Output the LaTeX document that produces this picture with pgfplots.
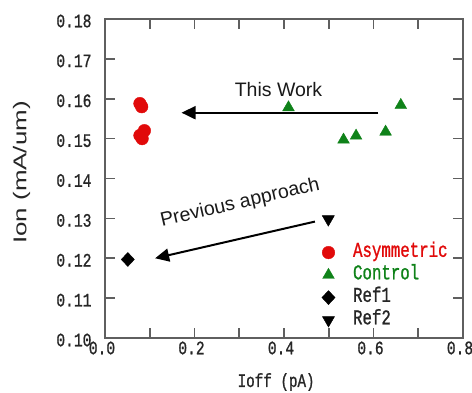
\documentclass[border=0pt]{standalone}
\usepackage{pgfplots}
\pgfplotsset{compat=1.18}
\usepackage{fontspec}
\setmainfont{Liberation Sans}
\newfontfamily\gothic[FakeStretch=0.75, FakeBold=1]{Liberation Mono}
\newfontfamily\tickgothic[FakeStretch=0.77, FakeBold=1]{Liberation Mono}
\newfontfamily\widesans[FakeStretch=1.4]{Liberation Sans}
\usetikzlibrary{arrows.meta}
\definecolor{myred}{RGB}{225,10,10}
\definecolor{mygreen}{RGB}{15,130,25}
\definecolor{axgray}{RGB}{95,95,95}
\begin{document}
\begin{tikzpicture}
\begin{axis}[
  scale only axis, width=358bp, height=319bp,
  xmin=0, xmax=0.8, ymin=0.10, ymax=0.18,
  xtick={0,0.1,0.2,0.3,0.4,0.5,0.6,0.7,0.8},
  xticklabels={0.0,,0.2,,0.4,,0.6,,0.8},
  ytick={0.10,0.11,0.12,0.13,0.14,0.15,0.16,0.17,0.18},
  yticklabels={0.10,0.11,0.12,0.13,0.14,0.15,0.16,0.17,0.18},
  tick align=inside, major tick length=10bp,
  axis line style={axgray, line width=1.6bp},
  tick style={axgray, line width=1.6bp},
  ticklabel style={font=\tickgothic\fontsize{19bp}{19bp}\selectfont, black!85},
  xticklabel style={xshift=-3bp},
  yticklabel style={xshift=-10bp, yshift=-2bp},
  clip=false,
  every axis x label/.style={at={(axis description cs:0.478,-0.138)}, anchor=center},
  every axis y label/.style={at={(axis description cs:-0.233,0.519)}, anchor=center, rotate=90},
  xlabel={\gothic\fontsize{19bp}{19bp}\selectfont Ioff (pA)},
  ylabel={\widesans\fontsize{18.5bp}{18.5bp}\selectfont Ion (mA/um)},
  label style={black!85},
  legend style={at={(0.597,0.31)}, anchor=north west, draw=none, fill=none,
    font=\gothic\fontsize{21bp}{21bp}\selectfont, row sep=0pt, column sep=17bp,
    nodes={inner sep=1bp, text height=14.5bp, text depth=6bp}},
  legend cell align=left,
]
\addplot[only marks, mark=*, mark size=6.3bp, color=myred, mark options={fill=myred, draw=myred}] coordinates {
 (0.078,0.1588) (0.082,0.1580) (0.088,0.1520) (0.078,0.1508) (0.083,0.1500)};
\addlegendentry{\textcolor{myred}{Asymmetric}}
\addplot[only marks, mark=triangle*, mark size=6.8bp, color=mygreen, mark options={fill=mygreen, draw=mygreen}] coordinates {
 (0.410,0.1578) (0.533,0.1497) (0.561,0.1507) (0.627,0.1517) (0.661,0.1584)};
\addlegendentry{\textcolor{mygreen}{Control}}
\addplot[only marks, mark=diamond*, mark size=7bp, color=black, mark options={fill=black, xscale=1.25}] coordinates {
 (0.051,0.1197)};
\addlegendentry{\textcolor{black!85}{Ref1}}
\addplot[only marks, mark=triangle*, mark size=7bp, color=black, mark options={fill=black, rotate=180}] coordinates {
 (0.499,0.1298)};
\addlegendentry{\textcolor{black!85}{Ref2}}

\draw[line width=2bp, -{Triangle[length=14bp, width=13bp]}] (axis cs:0.611,0.1565) -- (axis cs:0.171,0.1565);
\node[font=\fontsize{19.5bp}{19.5bp}\selectfont, anchor=center, black!90] at (axis cs:0.3877,0.1623) {This Work};
\draw[line width=2bp, -{Triangle[length=14bp, width=13bp]}] (axis cs:0.469,0.1292) -- (axis cs:0.112,0.1200);
\node[font=\fontsize{19.5bp}{19.5bp}\selectfont, anchor=center, rotate=13, black!90] at (axis cs:0.302,0.1338) {Previous approach};

\coordinate (bbl) at (rel axis cs:-0.2933,-0.1693);
\coordinate (btr) at (rel axis cs:1.0251,1.0596);
\end{axis}
\pgfresetboundingbox
\useasboundingbox (bbl) rectangle (btr);
\end{tikzpicture}
\end{document}
